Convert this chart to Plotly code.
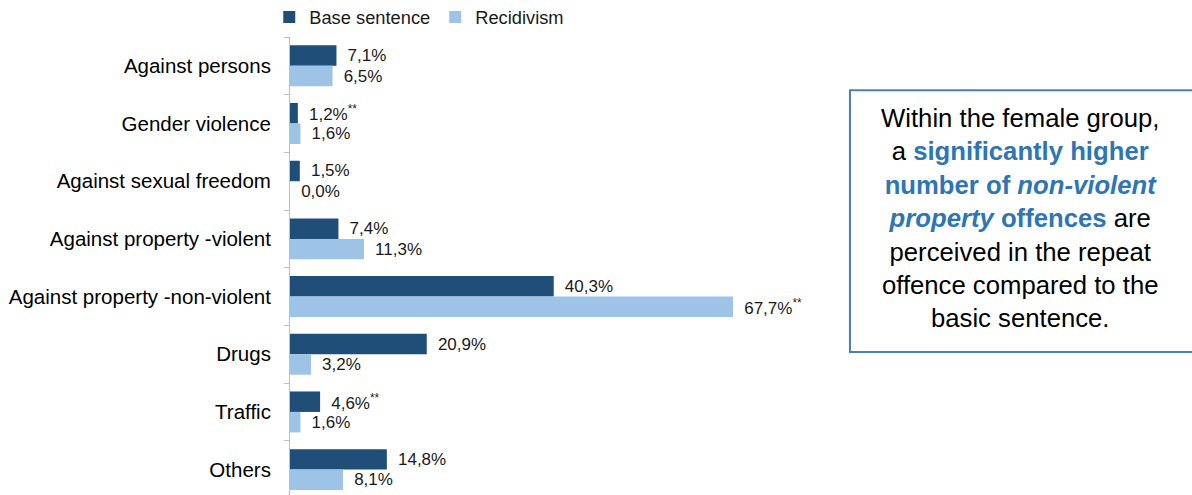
import plotly.graph_objects as go

categories = ["Against persons", "Gender violence", "Against sexual freedom",
              "Against property -violent", "Against property -non-violent",
              "Drugs", "Traffic", "Others"]
base_values = [7.1, 1.2, 1.5, 7.4, 40.3, 20.9, 4.6, 14.8]
recid_values = [6.5, 1.6, 0.0, 11.3, 67.7, 3.2, 1.6, 8.1]
base_marks = ["", "**", "", "", "", "", "**", ""]
recid_marks = ["", "", "", "", "**", "", "", ""]

FONT = "Liberation Sans, Arial, sans-serif"
DARK = "#1F4E79"
LIGHT = "#9DC3E6"
PAD = "\u00a0\u2009"


def labels(vals, marks):
    out = []
    for v, m in zip(vals, marks):
        s = PAD + f"{v:.1f}".replace(".", ",") + "%"
        if m:
            s += f"<sup>{m}</sup>"
        out.append(s)
    return out


fig = go.Figure()
fig.add_trace(go.Bar(
    y=categories, x=base_values, orientation="h", name="Base sentence",
    marker=dict(color=DARK, line=dict(width=0)),
    text=labels(base_values, base_marks), textposition="outside",
    textfont=dict(family=FONT, size=17, color="#1a1a1a"),
    constraintext="none", cliponaxis=False, hoverinfo="skip",
))
fig.add_trace(go.Bar(
    y=categories, x=recid_values, orientation="h", name="Recidivism",
    marker=dict(color=LIGHT, line=dict(width=0)),
    text=labels(recid_values, recid_marks), textposition="outside",
    textfont=dict(family=FONT, size=17, color="#1a1a1a"),
    constraintext="none", cliponaxis=False, hoverinfo="skip",
))

box_text = ("Within the female group,<br>"
            "a <span style='color:#2E75B6'><b>significantly higher</b></span><br>"
            "<span style='color:#2E75B6'><b>number of <i>non-violent</i></b></span><br>"
            "<span style='color:#2E75B6'><b><i>property</i> offences</b></span> are<br>"
            "perceived in the repeat<br>"
            "offence compared to the<br>"
            "basic sentence.")

fig.update_layout(
    width=1192, height=495,
    margin=dict(l=290, r=0, t=37, b=0, autoexpand=False),
    paper_bgcolor="white", plot_bgcolor="white",
    barmode="group", bargap=0.29, bargroupgap=0,
    font=dict(family=FONT, color="#000000"),
    showlegend=True,
    legend=dict(orientation="h", x=-0.023, xanchor="left", y=1.084, yanchor="top",
                font=dict(family=FONT, size=18.3, color="#1a1a1a"),
                itemwidth=30, traceorder="normal", bgcolor="rgba(0,0,0,0)"),
    xaxis=dict(visible=False, range=[0, 82.7], domain=[0, 0.6]),
    yaxis=dict(autorange=False, range=[7.44, -0.5], type="category",
               categoryorder="array", categoryarray=categories,
               automargin=False,
               showline=True, linecolor="#BFBFBF", linewidth=1,
               ticks="outside", tickson="boundaries", ticklen=5, tickcolor="#BFBFBF",
               showgrid=False, zeroline=False,
               tickfont=dict(family=FONT, size=20.5, color="#000000"),
               ticklabelstandoff=14),
    shapes=[dict(type="rect", xref="paper", yref="paper",
                 x0=0.6208, x1=1.01, y0=0.312, y1=0.884,
                 line=dict(color="#4A7EBB", width=2), fillcolor="rgba(0,0,0,0)")],
    annotations=[dict(xref="paper", yref="paper", x=0.809, y=0.604,
                      xanchor="center", yanchor="middle", showarrow=False,
                      align="center", text=box_text,
                      font=dict(family=FONT, size=25.7, color="#000000"))],
)

fig.write_html("out.html", config={"displayModeBar": False},
               post_script="document.body.style.margin='0';document.body.style.padding='0';")
